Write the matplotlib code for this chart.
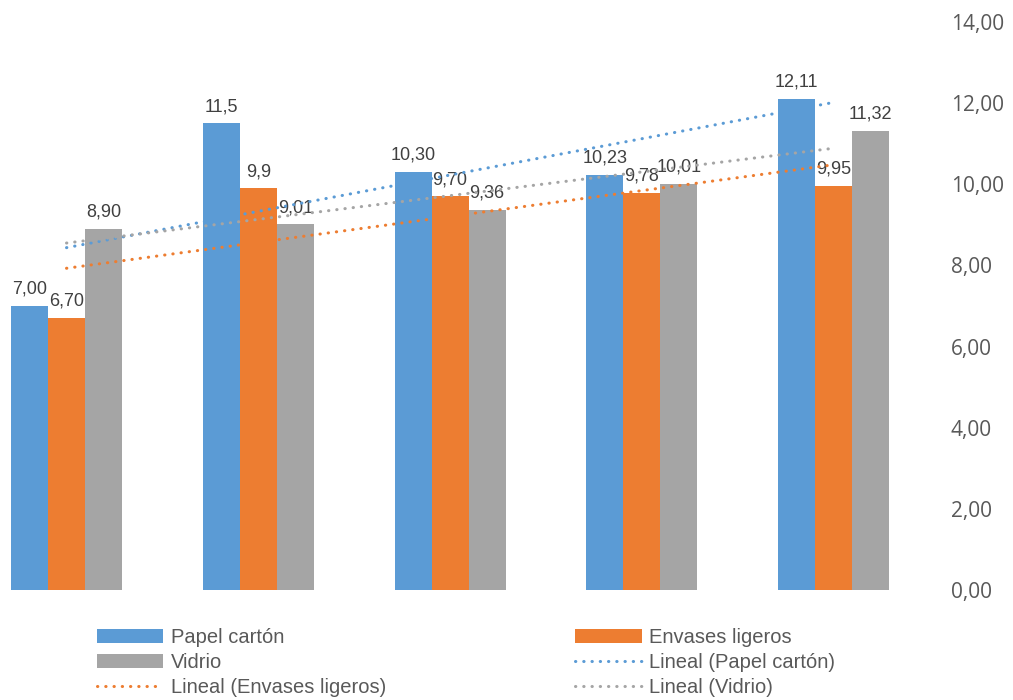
import numpy as np
import matplotlib
matplotlib.use("Agg")
import matplotlib.pyplot as plt

# values per group
papel = [7.00, 11.5, 10.30, 10.23, 12.11]
envases = [6.70, 9.9, 9.70, 9.78, 9.95]
vidrio = [8.90, 9.01, 9.36, 10.01, 11.32]
# labels as written on the bars
papel_lbl = ["7,00", "11,5", "10,30", "10,23", "12,11"]
envases_lbl = ["6,70", "9,9", "9,70", "9,78", "9,95"]
vidrio_lbl = ["8,90", "9,01", "9,36", "10,01", "11,32"]
yticks = [0, 2, 4, 6, 8, 10, 12, 14]

c_blue = "#5B9BD5"
c_orange = "#ED7D31"
c_gray = "#A5A5A5"
txt = "#595959"

fig = plt.figure(figsize=(10.13, 7), dpi=100)
ax = fig.add_axes([0, 110 / 700, 930 / 1013, 568 / 700])

x = np.arange(len(papel))
w = 0.193

series = [
    (papel, papel_lbl, c_blue, "Papel cartón", -w),
    (envases, envases_lbl, c_orange, "Envases ligeros", 0),
    (vidrio, vidrio_lbl, c_gray, "Vidrio", w),
]

bars = []
for vals, lbls, col, name, off in series:
    b = ax.bar(x + off, vals, w, color=col, label=name, zorder=2)
    bars.append(b)
    for xi, v, t in zip(x + off, vals, lbls):
        ax.annotate(t, (xi, v), xytext=(0, 6), textcoords="offset points",
                    ha="center", va="bottom", fontsize=13, color="#404040",
                    family="Liberation Sans", zorder=3)

# linear trend lines
trends = []
for vals, lbls, col, name, off in series:
    k, b0 = np.polyfit(x, vals, 1)
    ln, = ax.plot(x, k * x + b0, color=col, lw=2.2, linestyle=(0, (0.1, 2.6)),
                  dash_capstyle="round", label="Lineal (" + name + ")", zorder=4)
    trends.append(ln)

ax.set_xlim(-0.347, 4.503)
ax.set_ylim(0, 14)
ax.set_xticks([])
ax.yaxis.tick_right()
ax.set_yticks(yticks)
ax.set_yticklabels([f"{v:.2f}".replace(".", ",") for v in yticks],
                   family="Open Sans", fontsize=15, color=txt)
ax.tick_params(axis="y", length=0, pad=15)
for s in ax.spines.values():
    s.set_visible(False)

# legend filled row by row
handles = [bars[0], bars[2], trends[1], bars[1], trends[0], trends[2]]
labels = [h.get_label() for h in handles]
leg = fig.legend(handles, labels, ncol=2, loc="upper left",
                 bbox_to_anchor=(97 / 1013, 0.103), frameon=False,
                 prop={"family": "Liberation Sans", "size": 14.5},
                 handlelength=3.3, handletextpad=0.35, columnspacing=9.4,
                 labelspacing=0.3, borderpad=0, borderaxespad=0)
for t in leg.get_texts():
    t.set_color(txt)

fig.savefig("out.png", dpi=100)
